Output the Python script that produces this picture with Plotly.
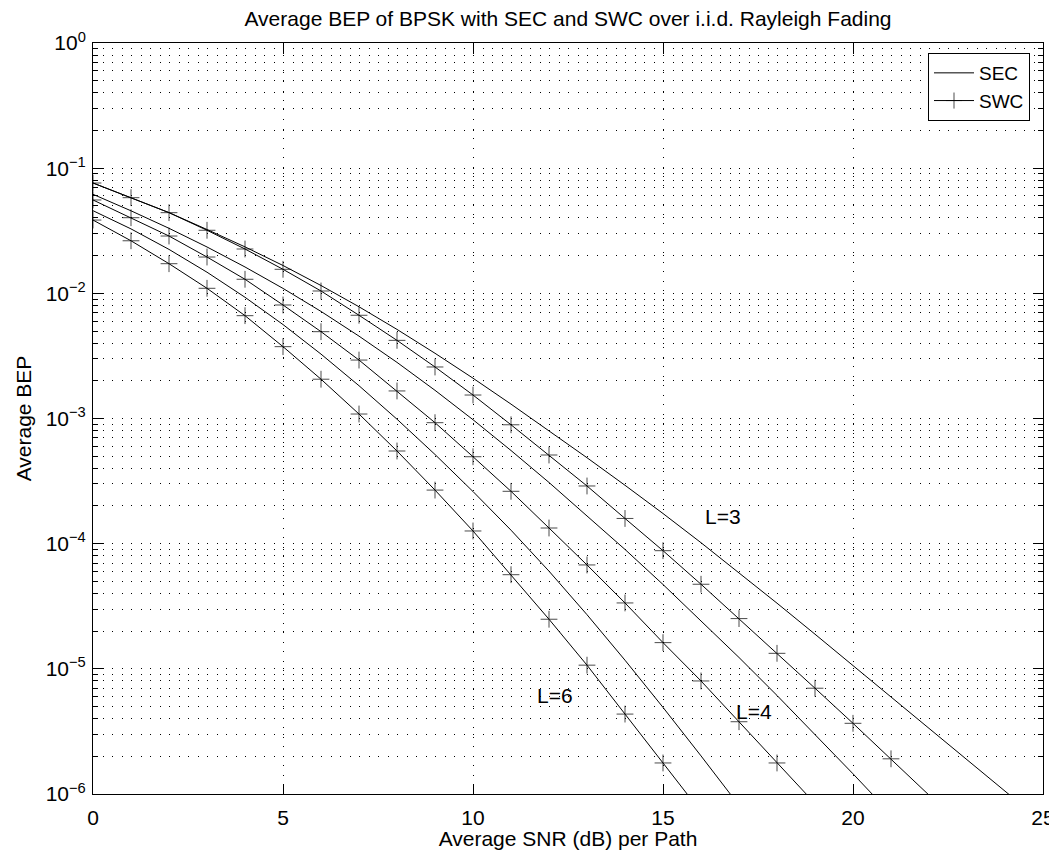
import math
import plotly.graph_objects as go

# ---------------- data ----------------
snr_sec3 = list(range(0, 26))
bep_sec3 = [0.07611, 0.05818, 0.04416, 0.03236, 0.02350, 0.01669, 0.01155, 0.00781, 0.00515,
            0.00332, 0.002099, 0.001303, 0.000802, 0.000486, 0.0002927, 0.0001742, 0.0001018,
            5.87e-5, 3.346e-5, 1.891e-5, 1.063e-5, 5.97e-6, 3.35e-6, 1.880e-6, 1.055e-6, 5.92e-7]

snr_sec4 = list(range(0, 22))
bep_sec4 = [0.06182, 0.04564, 0.03308, 0.02346, 0.01624, 0.01095, 0.00717, 0.00455, 0.002807,
            0.001680, 0.000978, 0.000555, 0.0003082, 0.0001679, 8.99e-5, 4.72e-5, 2.433e-5,
            1.232e-5, 6.13e-6, 3.00e-6, 1.450e-6, 6.92e-7]

snr_sec6 = list(range(0, 18))
bep_sec6 = [0.04573, 0.03272, 0.02244, 0.01475, 0.00930, 0.00563, 0.003270, 0.001828, 0.000987,
            0.000516, 0.000261, 0.0001282, 6.03e-5, 2.707e-5, 1.172e-5, 4.92e-6, 2.016e-6, 8.11e-7]

snr_swc3 = list(range(0, 23))
bep_swc3 = [0.0761, 0.0581, 0.0441, 0.0319, 0.0226, 0.01556, 0.01044, 0.00668, 0.00421, 0.00258,
            0.00154, 0.000891, 0.000511, 0.000289, 0.000159, 8.79e-5, 4.74e-5, 2.52e-5, 1.33e-5,
            7.0e-6, 3.67e-6, 1.91e-6, 9.8e-7]

snr_swc4 = list(range(0, 20))
bep_swc4 = [0.0557, 0.0402, 0.0287, 0.0195, 0.01295, 0.00807, 0.00494, 0.00293, 0.00166, 0.000926,
            0.000495, 0.000262, 0.0001334, 6.76e-5, 3.36e-5, 1.62e-5, 8.0e-6, 3.78e-6, 1.77e-6, 8.4e-7]

snr_swc6 = list(range(0, 17))
bep_swc6 = [0.0385, 0.0263, 0.01725, 0.01097, 0.00663, 0.00375, 0.00206, 0.001086, 0.00055,
            0.000268, 0.0001263, 5.65e-5, 2.49e-5, 1.07e-5, 4.35e-6, 1.77e-6, 7.2e-7]

# last point of each SWC series only continues the line (no marker drawn)
swc_marker_count = {"L3": 22, "L4": 19, "L6": 16}

x_ticks = [0, 5, 10, 15, 20, 25]
y_ticks = [1e-6, 1e-5, 1e-4, 1e-3, 1e-2, 1e-1, 1e0]
y_ticktext = ["10<sup>−6</sup>", "10<sup>−5</sup>", "10<sup>−4</sup>", "10<sup>−3</sup>",
              "10<sup>−2</sup>", "10<sup>−1</sup>", "10<sup>0</sup>"]
y_minor = [k * 10.0 ** e for e in range(-6, 0) for k in range(2, 10)]

label_text = ["L=3", "L=4", "L=6"]
label_x = [16.06, 16.88, 11.63]
label_y = [1.64e-4, 4.55e-6, 6.1e-6]

title_text = "Average BEP of BPSK with SEC and SWC over i.i.d. Rayleigh Fading"
x_title = "Average SNR (dB) per Path"
y_title = "Average BEP"

# ---------------- figure ----------------
FONT = "Liberation Sans, Arial, Helvetica, sans-serif"
FS = 21
fig = go.Figure()

def add_sec(x, y, show):
    fig.add_trace(go.Scatter(x=x, y=y, mode="lines", name="SEC", legendgroup="SEC",
                             showlegend=show, line=dict(color="black", width=1)))

def add_swc(x, y, nmark, show):
    sizes = [12 if i < nmark else 0 for i in range(len(x))]
    fig.add_trace(go.Scatter(x=x, y=y, mode="lines+markers", name="SWC", legendgroup="SWC",
                             showlegend=show, line=dict(color="black", width=1),
                             marker=dict(symbol="cross-thin", size=sizes, color="black",
                                         line=dict(color="black", width=1))))

add_sec(snr_sec3, bep_sec3, True)
add_swc(snr_swc3, bep_swc3, swc_marker_count["L3"], True)
add_sec(snr_sec4, bep_sec4, False)
add_swc(snr_swc4, bep_swc4, swc_marker_count["L4"], False)
add_sec(snr_sec6, bep_sec6, False)
add_swc(snr_swc6, bep_swc6, swc_marker_count["L6"], False)

for t, xv, yv in zip(label_text, label_x, label_y):
    fig.add_annotation(x=xv, y=math.log10(yv), xref="x", yref="y", text=t, showarrow=False,
                       xanchor="left", yanchor="middle", font=dict(size=FS, color="black"))

# the page body adds an 8px margin, so the figure is 8px smaller than the window
W, H = 1049, 842
L, R, T, B = 85, 14, 35, 56
PW, PH = W - L - R, H - T - B
GRID = "1px,8.5px"

fig.update_layout(
    width=W, height=H,
    margin=dict(l=L, r=R, t=T, b=B, autoexpand=False),
    paper_bgcolor="white", plot_bgcolor="white",
    font=dict(family=FONT, size=FS, color="black"),
    title=dict(text=title_text, x=0.5, xref="paper", xanchor="center",
               y=1 - 10.5 / H, yref="container", yanchor="middle", font=dict(size=FS)),
    legend=dict(x=(1022 - L) / PW, y=1 - 10 / PH, xanchor="right", yanchor="top",
                bordercolor="black", borderwidth=1, bgcolor="white",
                font=dict(size=19), tracegroupgap=0, itemwidth=40),
    showlegend=True,
)

fig.update_xaxes(range=[0, 25], tickmode="array", tickvals=x_ticks,
                 ticks="inside", ticklen=10, tickcolor="black", tickwidth=1,
                 showline=True, linecolor="black", linewidth=1, mirror="ticks",
                 showgrid=True, gridcolor="black", griddash=GRID, gridwidth=1,
                 zeroline=False, automargin=False, ticklabelstandoff=5,
                 title=dict(text=x_title, standoff=4, font=dict(size=FS)))

fig.update_yaxes(type="log", range=[-6, 0], tickmode="array", tickvals=y_ticks, ticktext=y_ticktext,
                 ticks="inside", ticklen=10, tickcolor="black", tickwidth=1,
                 showline=True, linecolor="black", linewidth=1, mirror="ticks",
                 showgrid=True, gridcolor="black", griddash=GRID, gridwidth=1,
                 zeroline=False, automargin=False, ticklabelstandoff=2,
                 minor=dict(tickmode="array", tickvals=y_minor, ticks="inside", ticklen=5,
                            tickcolor="black", tickwidth=1, showgrid=True, gridcolor="black",
                            griddash=GRID, gridwidth=1),
                 title=dict(text=y_title, standoff=8, font=dict(size=FS)))

fig.write_html("out.html")
